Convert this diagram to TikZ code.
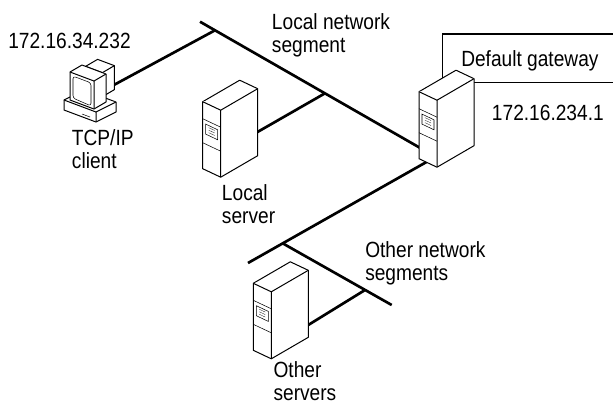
\documentclass[tikz,border=0pt]{standalone}
\usepackage{fontspec}
\setmainfont{Liberation Sans}[FakeStretch=0.87]
\usetikzlibrary{shapes}

% tower server, #1 = top corner of the front face
\newcommand{\drawserver}[1]{%
  \begin{scope}[shift={#1}]
    \draw[servbox] (0,0) -- (37,-21.5) -- (55,-13) -- (55,54) -- (18,75.5) -- (0,67) -- cycle;
    \draw[servbox] (0,0) -- (18,8.5) -- (55,-13) (18,8.5) -- (18,75.5);
    % drive bay
    \draw[thin] (0,17) -- (18,25.5) (0,41) -- (18,49.5);
    \draw[thin] (3,22.4) -- (15,28.1) -- (15,38.1) -- (3,32.4) -- cycle;
    \foreach \h in {26,28.5,31} \draw[very thin] (6,\h) -- (12,\h+2.8);
  \end{scope}}

% desktop pc, #1 = front left corner of the case
\newcommand{\drawpc}[1]{%
  \begin{scope}[shift={#1}]
    \draw[servbox] (0,0) -- (20,-10) -- (52,2) -- (52,12) -- (32,22) -- (0,10) -- cycle;
    \draw[servbox] (0,0) -- (32,12) -- (52,2) (32,12) -- (32,22);
    \draw[thin] (18,14) -- (26,17);
    % tube behind the screen
    \draw[servbox] (21.6,-33.65) -- (33.6,-40.65) -- (50.4,-34.35) -- (50.4,-10.35) -- (38.4,-3.35) -- (38.4,-27.35) -- cycle;
    \draw[servbox] (38.4,-27.35) -- (50.4,-34.35);
    % screen
    \draw[servbox] (6,-28) -- (18,-35) -- (42,-26) -- (42,2) -- (30,9) -- (6,0) -- cycle;
    \draw[servbox] (6,-28) -- (30,-19) -- (42,-26) (30,-19) -- (30,9);
    \draw[thin,rounded corners=2pt] (9,-23.9) -- (27,-17.1) -- (27,5.9) -- (9,-1.9) -- cycle;
  \end{scope}}

\begin{document}
\begin{tikzpicture}[x=0.75pt,y=-0.75pt,
    net/.style={line width=2pt},
    servbox/.style={draw, fill=white, line width=0.75pt, line join=round},
    gwbox/.style={draw, line width=1.1pt}]
    \tikzstyle{every node}=[inner sep=0pt, anchor=base west, align=left,
        font=\fontsize{16.5}{17.25}\selectfont]
    \useasboundingbox (0,0) rectangle (613,404);

    \coordinate (lanA) at (200,21.7);
    \coordinate (lanB) at (422,149);
    \coordinate (pcJoin) at (215,30.3);
    \coordinate (pcPort) at (112,86);
    \coordinate (lsJoin) at (325,93.3);
    \coordinate (lsPort) at (254,134);
    \coordinate (wanA) at (248,263);
    \coordinate (wanB) at (430,160);
    \coordinate (osJoin) at (283,243.5);
    \coordinate (osEnd) at (391.7,305);
    \coordinate (osTap) at (365,290);
    \coordinate (osPort) at (305,327);

    % gateway callout
    \draw[gwbox] (620,34) -- (442.7,34) -- (442.7,82.3) -- (620,82.3);

    \draw[net] (lanA) -- (lanB);
    \draw[net] (pcPort) -- (pcJoin);
    \draw[net] (lsPort) -- (lsJoin);
    \draw[net] (wanA) -- (wanB);
    \draw[net] (osJoin) -- (osEnd);
    \draw[net] (osPort) -- (osTap);

    \drawpc{(64,100)}
    \drawserver{(202.7,101.7)}
    \drawserver{(419,91.7)}
    \drawserver{(253.3,283.3)}

    % two-line labels sit on the baseline of their last line
    \node (pcip) at (8,48) {172.16.34.232};
    \node (pcname) at (71.7,168.3) {TCP/IP\\client};
    \node (lanname) at (271.7,52.5) {Local network\\segment};
    \node (lsname) at (221.7,223.3) {Local\\server};
    \node (gwname) at (461,66.7) {Default gateway};
    \node (gwip) at (491.7,120) {172.16.234.1};
    \node (wanname) at (365,280) {Other network\\segments};
    \node (osname) at (273.3,400.5) {Other\\servers};
\end{tikzpicture}
\end{document}
